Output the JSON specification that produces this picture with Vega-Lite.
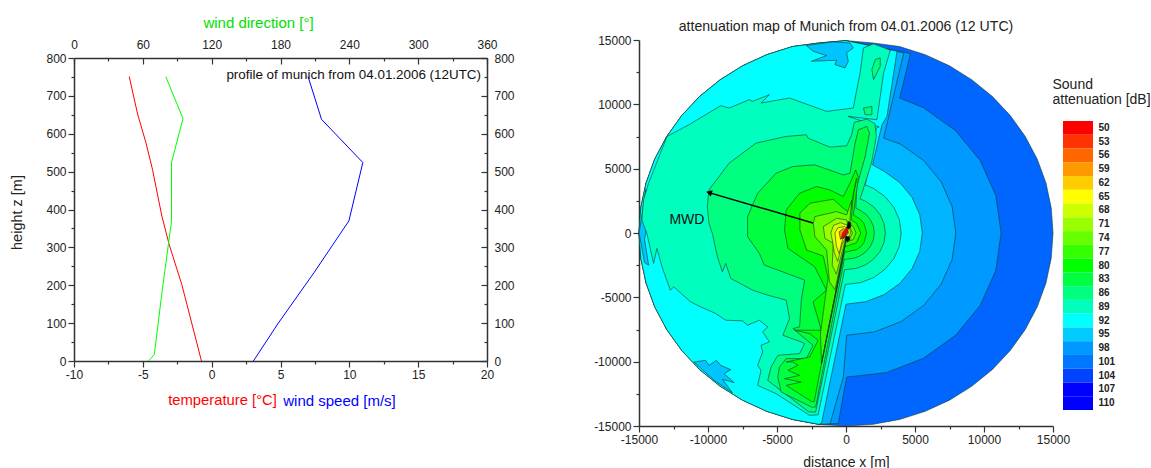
{"$schema":"https://vega.github.io/schema/vega-lite/v6.json","background":"white","padding":{"left":9,"top":15,"right":0,"bottom":0},"spacing":78,"align":"none","config":{"view":{"stroke":null},"font":"Liberation Sans","axis":{"grid":false,"labelFlush":false,"domainColor":"#333","domainWidth":1.5,"tickColor":"#333","tickWidth":1.2,"labelColor":"#222","labelFontSize":12,"labelFont":"Liberation Sans","titleFont":"Liberation Sans","titleFontWeight":"normal","labelOverlap":false}},
"datasets":{"prof":[
{"s":"t","x":-0.74,"y":0},{"s":"t","x":-2.17,"y":202},{"s":"t","x":-3.09,"y":308},{"s":"t","x":-3.62,"y":383},{"s":"t","x":-4.3,"y":506},{"s":"t","x":-4.78,"y":577},{"s":"t","x":-5.38,"y":652},{"s":"t","x":-5.99,"y":751},
{"s":"v","x":3.03,"y":0},{"s":"v","x":4.84,"y":100},{"s":"v","x":7.43,"y":233},{"s":"v","x":9.97,"y":370},{"s":"v","x":10.98,"y":524},{"s":"v","x":7.98,"y":638},{"s":"v","x":7.0,"y":751},
{"s":"d","x":65,"y":0},{"s":"d","x":70,"y":17},{"s":"d","x":77,"y":189},{"s":"d","x":85,"y":369},{"s":"d","x":85,"y":524},{"s":"d","x":95,"y":640},{"s":"d","x":80,"y":751}],
"poly":[
{"p":0,"x":15000,"y":0},{"p":0,"x":14870,"y":-1960},{"p":0,"x":14490,"y":-3880},{"p":0,"x":13860,"y":-5740},{"p":0,"x":12990,"y":-7500},{"p":0,"x":11900,"y":-9130},{"p":0,"x":10610,"y":-10610},{"p":0,"x":9130,"y":-11900},{"p":0,"x":7500,"y":-12990},{"p":0,"x":5740,"y":-13860},{"p":0,"x":3880,"y":-14490},{"p":0,"x":1960,"y":-14870},{"p":0,"x":0,"y":-15000},{"p":0,"x":-1960,"y":-14870},{"p":0,"x":-3880,"y":-14490},{"p":0,"x":-7500,"y":-12990},{"p":0,"x":-10610,"y":-10610},{"p":0,"x":-12990,"y":-7500},{"p":0,"x":-14490,"y":-3880},{"p":0,"x":-15000,"y":0},{"p":0,"x":-14490,"y":3880},{"p":0,"x":-12990,"y":7500},{"p":0,"x":-10610,"y":10610},{"p":0,"x":-7500,"y":12990},{"p":0,"x":-3880,"y":14490},{"p":0,"x":0,"y":14950},{"p":0,"x":1960,"y":14770},{"p":0,"x":3880,"y":14490},{"p":0,"x":5740,"y":13860},{"p":0,"x":7500,"y":12990},{"p":0,"x":9130,"y":11900},{"p":0,"x":10610,"y":10610},{"p":0,"x":11900,"y":9130},{"p":0,"x":12990,"y":7500},{"p":0,"x":13860,"y":5740},{"p":0,"x":14490,"y":3880},{"p":0,"x":14870,"y":1960},
{"p":1,"x":4671,"y":13944},{"p":1,"x":3893,"y":10490},{"p":1,"x":5620,"y":9734},{"p":1,"x":7948,"y":7948},{"p":1,"x":9734,"y":5620},{"p":1,"x":10857,"y":2909},{"p":1,"x":11240,"y":0},{"p":1,"x":10857,"y":-2909},{"p":1,"x":9734,"y":-5620},{"p":1,"x":7948,"y":-7948},{"p":1,"x":5620,"y":-9734},{"p":1,"x":2909,"y":-10857},{"p":1,"x":48,"y":-11195},{"p":1,"x":-560,"y":-14800},{"p":1,"x":-1960,"y":-14870},{"p":1,"x":-3880,"y":-14490},{"p":1,"x":-5740,"y":-13860},{"p":1,"x":-7500,"y":-12990},{"p":1,"x":-9130,"y":-11900},{"p":1,"x":-10610,"y":-10610},{"p":1,"x":-11900,"y":-9130},{"p":1,"x":-12990,"y":-7500},{"p":1,"x":-13860,"y":-5740},{"p":1,"x":-14490,"y":-3880},{"p":1,"x":-14870,"y":-1960},{"p":1,"x":-15000,"y":0},{"p":1,"x":-14870,"y":1960},{"p":1,"x":-14490,"y":3880},{"p":1,"x":-13860,"y":5740},{"p":1,"x":-12990,"y":7500},{"p":1,"x":-11900,"y":9130},{"p":1,"x":-10610,"y":10610},{"p":1,"x":-9130,"y":11900},{"p":1,"x":-7500,"y":12990},{"p":1,"x":-5740,"y":13860},{"p":1,"x":-3880,"y":14490},{"p":1,"x":-1960,"y":14770},{"p":1,"x":0,"y":14950},
{"p":2,"x":4185,"y":13996},{"p":2,"x":2725,"y":7374},{"p":2,"x":3980,"y":6894},{"p":2,"x":5629,"y":5629},{"p":2,"x":6894,"y":3980},{"p":2,"x":7689,"y":2060},{"p":2,"x":7960,"y":0},{"p":2,"x":7689,"y":-2060},{"p":2,"x":6894,"y":-3980},{"p":2,"x":5629,"y":-5629},{"p":2,"x":3980,"y":-6894},{"p":2,"x":2060,"y":-7689},{"p":2,"x":48,"y":-7946},{"p":2,"x":-193,"y":-11193},{"p":2,"x":-1157,"y":-14830},{"p":2,"x":-1960,"y":-14870},{"p":2,"x":-3880,"y":-14490},{"p":2,"x":-5740,"y":-13860},{"p":2,"x":-7500,"y":-12990},{"p":2,"x":-9130,"y":-11900},{"p":2,"x":-10610,"y":-10610},{"p":2,"x":-11900,"y":-9130},{"p":2,"x":-12990,"y":-7500},{"p":2,"x":-13860,"y":-5740},{"p":2,"x":-14490,"y":-3880},{"p":2,"x":-14870,"y":-1960},{"p":2,"x":-15000,"y":0},{"p":2,"x":-14870,"y":1960},{"p":2,"x":-14490,"y":3880},{"p":2,"x":-13860,"y":5740},{"p":2,"x":-12990,"y":7500},{"p":2,"x":-11900,"y":9130},{"p":2,"x":-10610,"y":10610},{"p":2,"x":-9130,"y":11900},{"p":2,"x":-7500,"y":12990},{"p":2,"x":-5740,"y":13860},{"p":2,"x":-3880,"y":14490},{"p":2,"x":-1960,"y":14770},{"p":2,"x":0,"y":14950},
{"p":3,"x":3698,"y":14126},{"p":3,"x":2968,"y":9062},{"p":3,"x":2603,"y":8413},{"p":3,"x":1922,"y":5296},{"p":3,"x":2765,"y":4789},{"p":3,"x":3910,"y":3910},{"p":3,"x":4789,"y":2765},{"p":3,"x":5342,"y":1431},{"p":3,"x":5530,"y":0},{"p":3,"x":5342,"y":-1431},{"p":3,"x":4789,"y":-2765},{"p":3,"x":3910,"y":-3910},{"p":3,"x":2765,"y":-4789},{"p":3,"x":1431,"y":-5342},{"p":3,"x":0,"y":-5530},{"p":3,"x":-1770,"y":-14776},{"p":3,"x":-1960,"y":-14870},{"p":3,"x":-3880,"y":-14490},{"p":3,"x":-5740,"y":-13860},{"p":3,"x":-7500,"y":-12990},{"p":3,"x":-9130,"y":-11900},{"p":3,"x":-10610,"y":-10610},{"p":3,"x":-11900,"y":-9130},{"p":3,"x":-12990,"y":-7500},{"p":3,"x":-13860,"y":-5740},{"p":3,"x":-14490,"y":-3880},{"p":3,"x":-14870,"y":-1960},{"p":3,"x":-15000,"y":0},{"p":3,"x":-14870,"y":1960},{"p":3,"x":-14490,"y":3880},{"p":3,"x":-13860,"y":5740},{"p":3,"x":-12990,"y":7500},{"p":3,"x":-11900,"y":9130},{"p":3,"x":-10610,"y":10610},{"p":3,"x":-9130,"y":11900},{"p":3,"x":-7500,"y":12990},{"p":3,"x":-5740,"y":13860},{"p":3,"x":-3880,"y":14490},{"p":3,"x":-1960,"y":14770},{"p":3,"x":0,"y":14950},
{"p":4,"x":-2873,"y":14567},{"p":4,"x":-2387,"y":14126},{"p":4,"x":-1413,"y":13788},{"p":4,"x":-2508,"y":13347},{"p":4,"x":-683,"y":13425},{"p":4,"x":-805,"y":13087},{"p":4,"x":-75,"y":12827},{"p":4,"x":168,"y":13347},{"p":4,"x":47,"y":13996},{"p":4,"x":533,"y":14386},{"p":4,"x":290,"y":14775},{"p":4,"x":-1000,"y":14850},
{"p":5,"x":-11024,"y":-10024},{"p":5,"x":-10172,"y":-9894},{"p":5,"x":-9929,"y":-10284},{"p":5,"x":-9393,"y":-9894},{"p":5,"x":-9077,"y":-10284},{"p":5,"x":-8347,"y":-10621},{"p":5,"x":-8834,"y":-10933},{"p":5,"x":-8104,"y":-11634},{"p":5,"x":-8955,"y":-11375},{"p":5,"x":-8226,"y":-12413},{"p":5,"x":-9500,"y":-11500},
{"p":6,"x":-14500,"y":3400},{"p":6,"x":-14650,"y":2050},{"p":6,"x":-14430,"y":1270},{"p":6,"x":-14100,"y":2310},{"p":6,"x":-14350,"y":1000},{"p":6,"x":-14600,"y":-500},{"p":6,"x":-14300,"y":-2500},{"p":6,"x":-14600,"y":-2300},{"p":6,"x":-14990,"y":0},
{"p":7,"x":1387,"y":3738},{"p":7,"x":2000,"y":3464},{"p":7,"x":2828,"y":2828},{"p":7,"x":3464,"y":2000},{"p":7,"x":3864,"y":1035},{"p":7,"x":4000,"y":0},{"p":7,"x":3864,"y":-1035},{"p":7,"x":3464,"y":-2000},{"p":7,"x":2828,"y":-2828},{"p":7,"x":2000,"y":-3464},{"p":7,"x":1035,"y":-3864},{"p":7,"x":-50,"y":-4000},{"p":7,"x":-2021,"y":-14127},{"p":7,"x":-2630,"y":-14179},{"p":7,"x":-5063,"y":-12491},{"p":7,"x":-6401,"y":-11842},{"p":7,"x":-6158,"y":-10673},{"p":7,"x":-6401,"y":-10284},{"p":7,"x":-6036,"y":-9245},{"p":7,"x":-6158,"y":-8726},{"p":7,"x":-5549,"y":-8466},{"p":7,"x":-6036,"y":-7687},{"p":7,"x":-5671,"y":-7297},{"p":7,"x":-6280,"y":-6778},{"p":7,"x":-7131,"y":-7167},{"p":7,"x":-7496,"y":-6830},{"p":7,"x":-8712,"y":-6778},{"p":7,"x":-9442,"y":-6259},{"p":7,"x":-10537,"y":-5739},{"p":7,"x":-11267,"y":-5350},{"p":7,"x":-12483,"y":-4181},{"p":7,"x":-12727,"y":-4441},{"p":7,"x":-13335,"y":-2623},{"p":7,"x":-13700,"y":-1194},{"p":7,"x":-13943,"y":-2363},{"p":7,"x":-14430,"y":-26},{"p":7,"x":-14795,"y":1011},{"p":7,"x":-14673,"y":2569},{"p":7,"x":-14308,"y":3868},{"p":7,"x":-12970,"y":7503},{"p":7,"x":-11388,"y":8412},{"p":7,"x":-9077,"y":9893},{"p":7,"x":-8469,"y":9711},{"p":7,"x":-7009,"y":10360},{"p":7,"x":-6766,"y":10230},{"p":7,"x":-5549,"y":10750},{"p":7,"x":-6157,"y":10100},{"p":7,"x":-4090,"y":10490},{"p":7,"x":-1413,"y":9451},{"p":7,"x":533,"y":9711},{"p":7,"x":778,"y":11139},{"p":7,"x":1022,"y":12438},{"p":7,"x":1265,"y":14386},{"p":7,"x":2000,"y":14700},{"p":7,"x":3212,"y":14204},{"p":7,"x":2725,"y":12438},{"p":7,"x":2482,"y":10620},{"p":7,"x":2238,"y":8802},{"p":7,"x":170,"y":9062},{"p":7,"x":2400,"y":8250},{"p":7,"x":2200,"y":8153},{"p":7,"x":1700,"y":5400},
{"p":8,"x":1000,"y":2660},{"p":8,"x":1425,"y":2468},{"p":8,"x":2015,"y":2015},{"p":8,"x":2468,"y":1425},{"p":8,"x":2753,"y":738},{"p":8,"x":2850,"y":0},{"p":8,"x":2753,"y":-738},{"p":8,"x":2468,"y":-1425},{"p":8,"x":2015,"y":-2015},{"p":8,"x":1425,"y":-2468},{"p":8,"x":738,"y":-2753},{"p":8,"x":-100,"y":-2850},{"p":8,"x":-2200,"y":-13920},{"p":8,"x":-2700,"y":-13900},{"p":8,"x":-5671,"y":-11452},{"p":8,"x":-5427,"y":-10414},{"p":8,"x":-4941,"y":-9505},{"p":8,"x":-3360,"y":-9375},{"p":8,"x":-2995,"y":-8596},{"p":8,"x":-3238,"y":-8466},{"p":8,"x":-4576,"y":-7947},{"p":8,"x":-4090,"y":-6648},{"p":8,"x":-4333,"y":-5220},{"p":8,"x":-5671,"y":-4830},{"p":8,"x":-6766,"y":-4441},{"p":8,"x":-8347,"y":-3532},{"p":8,"x":-8712,"y":-2363},{"p":8,"x":-8956,"y":-3012},{"p":8,"x":-9320,"y":-1844},{"p":8,"x":-9685,"y":-26},{"p":8,"x":-9929,"y":751},{"p":8,"x":-10050,"y":2050},{"p":8,"x":-9929,"y":3348},{"p":8,"x":-8469,"y":5426},{"p":8,"x":-6522,"y":6984},{"p":8,"x":-4333,"y":7504},{"p":8,"x":-2873,"y":7634},{"p":8,"x":-2751,"y":7374},{"p":8,"x":-1170,"y":6672},{"p":8,"x":47,"y":6776},{"p":8,"x":412,"y":7634},{"p":8,"x":600,"y":8600},{"p":8,"x":1508,"y":8850},{"p":8,"x":2100,"y":8500},{"p":8,"x":2200,"y":7504},{"p":8,"x":1850,"y":5426},{"p":8,"x":1100,"y":2900},
{"p":9,"x":2117,"y":13477},{"p":9,"x":2482,"y":13607},{"p":9,"x":2482,"y":12957},{"p":9,"x":1995,"y":11919},{"p":9,"x":1874,"y":12698},
{"p":10,"x":1265,"y":9711},{"p":10,"x":1874,"y":9841},{"p":10,"x":1874,"y":9192},{"p":10,"x":1387,"y":9192},
{"p":11,"x":720,"y":1920},{"p":11,"x":1025,"y":1775},{"p":11,"x":1450,"y":1450},{"p":11,"x":1775,"y":1025},{"p":11,"x":1980,"y":531},{"p":11,"x":2050,"y":0},{"p":11,"x":1980,"y":-531},{"p":11,"x":1775,"y":-1025},{"p":11,"x":1450,"y":-1450},{"p":11,"x":1025,"y":-1775},{"p":11,"x":531,"y":-1980},{"p":11,"x":-120,"y":-2050},{"p":11,"x":-2200,"y":-13530},{"p":11,"x":-2500,"y":-13530},{"p":11,"x":-4698,"y":-12361},{"p":11,"x":-4941,"y":-11193},{"p":11,"x":-4819,"y":-10414},{"p":11,"x":-4333,"y":-9764},{"p":11,"x":-2873,"y":-9764},{"p":11,"x":-2387,"y":-8726},{"p":11,"x":-3846,"y":-7427},{"p":11,"x":-3360,"y":-7297},{"p":11,"x":-3238,"y":-5220},{"p":11,"x":-2995,"y":-3661},{"p":11,"x":-5914,"y":-2493},{"p":11,"x":-6279,"y":-1584},{"p":11,"x":-7131,"y":-285},{"p":11,"x":-7131,"y":1271},{"p":11,"x":-6401,"y":3089},{"p":11,"x":-5063,"y":4647},{"p":11,"x":-3846,"y":5166},{"p":11,"x":-2265,"y":5296},{"p":11,"x":-197,"y":4517},{"p":11,"x":292,"y":4647},{"p":11,"x":657,"y":6984},{"p":11,"x":900,"y":8023},{"p":11,"x":1508,"y":8283},{"p":11,"x":1703,"y":7763},{"p":11,"x":1387,"y":5945},{"p":11,"x":778,"y":3608},
{"p":12,"x":530,"y":1400},{"p":12,"x":1061,"y":1061},{"p":12,"x":1299,"y":750},{"p":12,"x":1500,"y":0},{"p":12,"x":1299,"y":-750},{"p":12,"x":1061,"y":-1061},{"p":12,"x":750,"y":-1299},{"p":12,"x":-100,"y":-1500},{"p":12,"x":-1778,"y":-10154},{"p":12,"x":-2300,"y":-13100},{"p":12,"x":-2500,"y":-13100},{"p":12,"x":-4333,"y":-11842},{"p":12,"x":-3238,"y":-11582},{"p":12,"x":-4455,"y":-11323},{"p":12,"x":-3360,"y":-11063},{"p":12,"x":-4211,"y":-10673},{"p":12,"x":-3481,"y":-10284},{"p":12,"x":-3846,"y":-10024},{"p":12,"x":-4333,"y":-10024},{"p":12,"x":-2630,"y":-9635},{"p":12,"x":-2021,"y":-8336},{"p":12,"x":-2630,"y":-7817},{"p":12,"x":-3725,"y":-7557},{"p":12,"x":-2508,"y":-7557},{"p":12,"x":-1778,"y":-7557},{"p":12,"x":-2387,"y":-5350},{"p":12,"x":-1413,"y":-4441},{"p":12,"x":-2265,"y":-2623},{"p":12,"x":-4211,"y":-1194},{"p":12,"x":-4455,"y":234},{"p":12,"x":-4333,"y":1790},{"p":12,"x":-3360,"y":3089},{"p":12,"x":-2143,"y":3608},{"p":12,"x":-1170,"y":3348},{"p":12,"x":-197,"y":2829},{"p":12,"x":290,"y":3868},{"p":12,"x":700,"y":4900},{"p":12,"x":900,"y":4300},
{"p":13,"x":380,"y":1000},{"p":13,"x":757,"y":757},{"p":13,"x":1070,"y":0},{"p":13,"x":757,"y":-757},{"p":13,"x":-90,"y":-1070},{"p":13,"x":-1778,"y":-10154},{"p":13,"x":-1850,"y":-7800},{"p":13,"x":-1500,"y":-5000},{"p":13,"x":-1300,"y":-3500},{"p":13,"x":-1646,"y":-1794},{"p":13,"x":-2856,"y":-1326},{"p":13,"x":-3340,"y":234},{"p":13,"x":-3340,"y":1534},{"p":13,"x":-2614,"y":2314},{"p":13,"x":-920,"y":2626},{"p":13,"x":-194,"y":1924},{"p":13,"x":290,"y":1534},{"p":13,"x":774,"y":4264},{"p":13,"x":532,"y":3094},
{"p":14,"x":260,"y":680},{"p":14,"x":516,"y":516},{"p":14,"x":730,"y":0},{"p":14,"x":516,"y":-516},{"p":14,"x":-60,"y":-730},{"p":14,"x":-800,"y":-4400},{"p":14,"x":-1200,"y":-3800},{"p":14,"x":-1404,"y":-1326},{"p":14,"x":-2251,"y":-286},{"p":14,"x":-2372,"y":754},{"p":14,"x":-2251,"y":1274},{"p":14,"x":-678,"y":1664},{"p":14,"x":48,"y":1404},{"p":14,"x":411,"y":2574},
{"p":15,"x":170,"y":440},{"p":15,"x":332,"y":332},{"p":15,"x":470,"y":0},{"p":15,"x":332,"y":-332},{"p":15,"x":-40,"y":-470},{"p":15,"x":-700,"y":-3200},{"p":15,"x":-1000,"y":-2500},{"p":15,"x":-920,"y":-806},{"p":15,"x":-1525,"y":-416},{"p":15,"x":-1646,"y":494},{"p":15,"x":-678,"y":1144},{"p":15,"x":48,"y":1014},
{"p":16,"x":-1100,"y":0},{"p":16,"x":-900,"y":600},{"p":16,"x":-400,"y":800},{"p":16,"x":100,"y":600},{"p":16,"x":300,"y":300},{"p":16,"x":330,"y":0},{"p":16,"x":250,"y":-250},{"p":16,"x":0,"y":-300},{"p":16,"x":-300,"y":-900},{"p":16,"x":-600,"y":-2200},{"p":16,"x":-850,"y":-1500},{"p":16,"x":-1000,"y":-500},
{"p":17,"x":-800,"y":0},{"p":17,"x":-600,"y":400},{"p":17,"x":-100,"y":500},{"p":17,"x":100,"y":250},{"p":17,"x":200,"y":0},{"p":17,"x":0,"y":-200},{"p":17,"x":-250,"y":-500},{"p":17,"x":-500,"y":-1600},{"p":17,"x":-700,"y":-1000},
{"p":18,"x":-500,"y":100},{"p":18,"x":-200,"y":350},{"p":18,"x":100,"y":200},{"p":18,"x":100,"y":-50},{"p":18,"x":-200,"y":-300},{"p":18,"x":-400,"y":-500},
{"p":19,"x":-250,"y":0},{"p":19,"x":-50,"y":300},{"p":19,"x":100,"y":500},{"p":19,"x":150,"y":150},{"p":19,"x":0,"y":-150},{"p":19,"x":-150,"y":-400},{"p":19,"x":-350,"y":-450},
{"p":20,"x":50,"y":400},{"p":20,"x":150,"y":900},{"p":20,"x":350,"y":800},{"p":20,"x":350,"y":450},{"p":20,"x":200,"y":300},
{"p":21,"x":-50,"y":-250},{"p":21,"x":250,"y":-300},{"p":21,"x":300,"y":-500},{"p":21,"x":100,"y":-700},{"p":21,"x":-50,"y":-600},
{"p":22,"x":0,"y":-500},{"p":22,"x":-1778,"y":-10154},{"p":22,"x":-60,"y":-1000}],
"leg":[{"l":"50","c":"#ff0000"},{"l":"53","c":"#ff3300"},{"l":"56","c":"#ff6600"},{"l":"59","c":"#ff9900"},{"l":"62","c":"#ffcc00"},{"l":"65","c":"#ffff00"},{"l":"68","c":"#ccff00"},{"l":"71","c":"#99ff00"},{"l":"74","c":"#66ff00"},{"l":"77","c":"#33ff00"},{"l":"80","c":"#00ff00"},{"l":"83","c":"#00ff40"},{"l":"86","c":"#00ff80"},{"l":"89","c":"#00ffbf"},{"l":"92","c":"#00ffff"},{"l":"95","c":"#00ccff"},{"l":"98","c":"#0099ff"},{"l":"101","c":"#0077ff"},{"l":"104","c":"#0044ff"},{"l":"107","c":"#0000ff"},{"l":"110","c":"#0000ff"}]},
"hconcat":[
{"width":413,"height":321,"resolve":{"scale":{"x":"independent","y":"independent"}},"layer":[
{"data":{"name":"prof"},"transform":[{"filter":"datum.s==='t'"}],"mark":{"type":"line","order":false,"stroke":"#ff0000","strokeWidth":1},
"encoding":{"x":{"field":"x","type":"quantitative","scale":{"domain":[-10,20]},"axis":{"orient":"bottom","values":[-10,-7.5,-5,-2.5,0,2.5,5,7.5,10,12.5,15,17.5,20],"labelExpr":"datum.value%5===0?''+datum.value:''","tickSize":{"condition":{"test":"datum.value%5===0","value":6},"value":3},"title":"temperature [°C]","titleColor":"#ff0000","titleFontSize":14.8,"titleX":148,"titleY":39,"titleBaseline":"middle"}},
"y":{"field":"y","type":"quantitative","scale":{"domain":[0,800],"range":[321,18]},"axis":{"orient":"left","values":[0,50,100,150,200,250,300,350,400,450,500,550,600,650,700,750,800],"labelExpr":"datum.value%100===0?datum.label:''","tickSize":{"condition":{"test":"datum.value%100===0","value":6},"value":3},"title":"height z [m]","titleColor":"#222","titleFontSize":14.5,"titleY":172,"titlePadding":21}}}},
{"data":{"name":"prof"},"transform":[{"filter":"datum.s==='v'"}],"mark":{"type":"line","order":false,"stroke":"#0000ff","strokeWidth":1},
"encoding":{"x":{"field":"x","type":"quantitative","scale":{"domain":[-10,20]},"axis":{"orient":"bottom","labels":false,"ticks":false,"domain":false,"title":"wind speed [m/s]","titleColor":"#0000ff","titleFontSize":15,"titleX":265,"titleY":39,"titleBaseline":"middle"}},
"y":{"field":"y","type":"quantitative","scale":{"domain":[0,800],"range":[321,18]},"axis":null}}},
{"data":{"name":"prof"},"transform":[{"filter":"datum.s==='d'"}],"mark":{"type":"line","order":false,"stroke":"#00ff00","strokeWidth":1},
"encoding":{"x":{"field":"x","type":"quantitative","scale":{"domain":[0,360]},"axis":{"orient":"top","offset":-18,"values":[0,30,60,90,120,150,180,210,240,270,300,330,360],"labelExpr":"datum.value%60===0?datum.label:''","tickSize":{"condition":{"test":"datum.value%60===0","value":-6},"value":-3},"labelPadding":13,"title":"wind direction [°]","titleColor":"#00e000","titleFontSize":15,"titleX":184,"titlePadding":5}},
"y":{"field":"y","type":"quantitative","scale":{"domain":[0,800],"range":[321,18]},"axis":{"orient":"right","values":[0,50,100,150,200,250,300,350,400,450,500,550,600,650,700,750,800],"labelExpr":"datum.value%100===0?datum.label:''","tickSize":{"condition":{"test":"datum.value%100===0","value":-6},"value":-3},"labelPadding":13,"title":null}}}},
{"data":{"values":[{"x":19.56,"y":755,"t":"profile of munich from 04.01.2006 (12UTC)"}]},"mark":{"type":"text","align":"right","baseline":"middle","fontSize":13.4,"color":"#111"},
"encoding":{"x":{"field":"x","type":"quantitative","scale":{"domain":[-10,20]},"axis":null},"y":{"field":"y","type":"quantitative","scale":{"domain":[0,800],"range":[321,18]},"axis":null},"text":{"field":"t"}}}
]},
{"width":414,"height":386,"title":{"text":"attenuation map of Munich from 04.01.2006 (12 UTC)","fontSize":14.1,"fontWeight":"normal","color":"#222","anchor":"middle","offset":0},"resolve":{"scale":{"x":"independent","y":"independent"}},"layer":[
{"data":{"name":"poly"},"mark":{"type":"line","order":false,"interpolate":"linear-closed","stroke":"#15382c","strokeWidth":0.6},
"encoding":{"x":{"field":"x","type":"quantitative","scale":{"domain":[-15000,15000],"nice":false},"axis":{"values":[-15000,-12500,-10000,-7500,-5000,-2500,0,2500,5000,7500,10000,12500,15000],"labelExpr":"datum.value%5000===0?''+datum.value:''","tickSize":{"condition":{"test":"datum.value%5000===0","value":6},"value":3},"title":"distance x [m]","titleColor":"#222","titleFontSize":14,"titlePadding":10}},
"y":{"field":"y","type":"quantitative","scale":{"domain":[-15000,15000],"nice":false},"axis":{"values":[-15000,-12500,-10000,-7500,-5000,-2500,0,2500,5000,7500,10000,12500,15000],"labelExpr":"datum.value%5000===0?''+datum.value:''","tickSize":{"condition":{"test":"datum.value%5000===0","value":6},"value":3},"title":null}},
"fill":{"field":"p","type":"ordinal","legend":null,"scale":{"domain":[0,1,2,3,4,5,6,7,8,9,10,11,12,13,14,15,16,17,18,19,20,21,22],"range":["#0066ff","#0099ff","#00b4ff","#00ffff","#00c4ff","#00c4ff","#00c4ff","#00ffbf","#00ff80","#00ff80","#00ff80","#00ff40","#00ff00","#33ff00","#66ff00","#99ff00","#ccff00","#ffff00","#ff9900","#ff0000","#000000","#000000","#000000"]}}}},
{"data":{"values":[{"x":-2392,"y":780},{"x":-9860,"y":3120}]},"mark":{"type":"line","stroke":"#000","strokeWidth":1.4},"encoding":{"x":{"field":"x","type":"quantitative","scale":{"domain":[-15000,15000],"nice":false},"axis":null},"y":{"field":"y","type":"quantitative","scale":{"domain":[-15000,15000],"nice":false},"axis":null}}},
{"data":{"values":[{"x":-9860,"y":3120}]},"mark":{"type":"point","shape":"triangle","filled":true,"color":"#000","size":45,"angle":-74,"opacity":1},"encoding":{"x":{"field":"x","type":"quantitative","scale":{"domain":[-15000,15000],"nice":false},"axis":null},"y":{"field":"y","type":"quantitative","scale":{"domain":[-15000,15000],"nice":false},"axis":null}}},
{"data":{"values":[{"x":-11530,"y":1010,"t":"MWD"}]},"mark":{"type":"text","fontSize":14,"color":"#111"},"encoding":{"x":{"field":"x","type":"quantitative","scale":{"domain":[-15000,15000],"nice":false},"axis":null},"y":{"field":"y","type":"quantitative","scale":{"domain":[-15000,15000],"nice":false},"axis":null},"text":{"field":"t"}}},
{"data":{"name":"leg"},"mark":{"type":"rect"},
"encoding":{"x":{"datum":"bar","type":"nominal","scale":{"type":"band","range":[424,454],"paddingInner":0,"paddingOuter":0},"axis":null},
"y":{"field":"l","type":"nominal","sort":null,"scale":{"type":"band","range":[81,370],"paddingInner":0,"paddingOuter":0},"axis":{"orient":"right","offset":40,"domain":false,"ticks":false,"tickSize":0,"labelFontWeight":"bold","labelFontSize":10,"labelColor":"#222","labelPadding":5,"bandPosition":0,"labelBaseline":"middle","title":["Sound","attenuation [dB]"],"titleAngle":0,"titleAlign":"left","titleBaseline":"middle","titleFontSize":14,"titleColor":"#222","titleLineHeight":15,"titleX":-41,"titleY":44}},
"fill":{"field":"c","type":"nominal","scale":null}}}
]}
]}
